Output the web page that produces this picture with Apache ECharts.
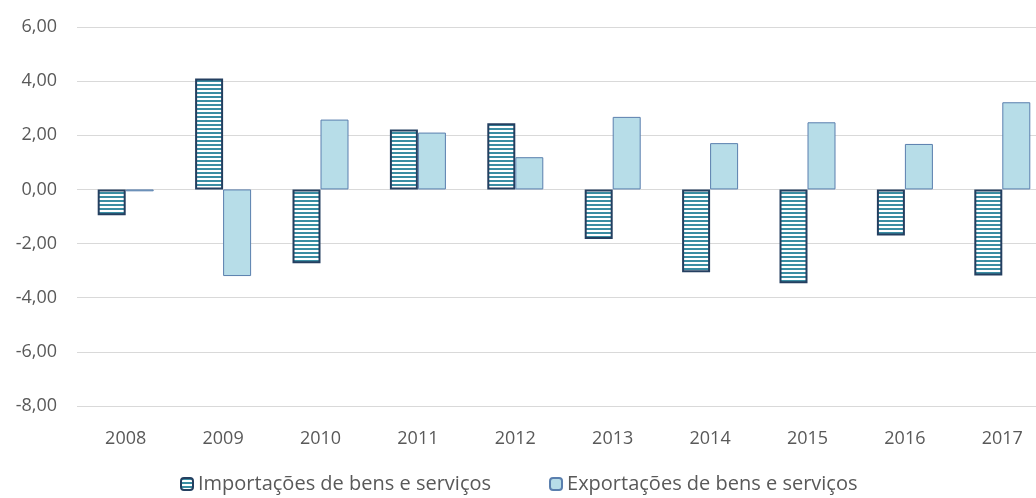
<!DOCTYPE html>
<html>
<head>
<meta charset="utf-8">
<script src="https://cdn.jsdelivr.net/npm/echarts@6/dist/echarts.min.js"></script>
<style>
  html, body { margin: 0; padding: 0; background: #fff; }
  #chart { width: 1036px; height: 498px; }
</style>
</head>
<body>
<div id="chart"></div>
<script>
const years = ['2008', '2009', '2010', '2011', '2012', '2013', '2014', '2015', '2016', '2017'];
const importacoes = [-0.95, 4.1, -2.73, 2.21, 2.44, -1.83, -3.06, -3.47, -1.7, -3.18];
const exportacoes = [-0.07, -3.2, 2.58, 2.1, 1.19, 2.68, 1.71, 2.48, 1.68, 3.22];

const labelColor = '#595959';
const gridColor = '#d9d9d9';

// listras horizontais da série de importações
const stripe = document.createElement('canvas');
stripe.width = 4;
stripe.height = 4;
const ctx = stripe.getContext('2d');
ctx.fillStyle = '#ffffff';
ctx.fillRect(0, 0, 4, 4);
ctx.fillStyle = '#3a8da3';
ctx.fillRect(0, 0, 4, 2);

const chart = echarts.init(document.getElementById('chart'));
chart.setOption({
  animation: false,
  textStyle: { fontFamily: 'Open Sans' },
  grid: { left: 77, top: 27, width: 974, height: 379, containLabel: false, outerBoundsMode: 'none' },
  legend: {
    top: 472,
    left: 180,
    padding: 0,
    itemWidth: 12,
    itemHeight: 12,
    itemGap: 58,
    textStyle: { color: labelColor, fontSize: 20, lineHeight: 24, fontFamily: 'Open Sans' },
    data: ['Importações de bens e serviços', 'Exportações de bens e serviços']
  },
  xAxis: {
    type: 'category',
    data: years,
    position: 'bottom',
    axisLine: { show: false },
    axisTick: { show: false },
    axisLabel: { color: labelColor, fontSize: 18, margin: 24 }
  },
  yAxis: {
    type: 'value',
    min: -8,
    max: 6,
    interval: 2,
    axisLine: { show: false },
    axisTick: { show: false },
    splitLine: { lineStyle: { color: gridColor, width: 1 } },
    axisLabel: {
      color: labelColor,
      fontSize: 18,
      margin: 20,
      formatter: v => v.toFixed(2).replace('.', ',')
    }
  },
  series: [
    {
      name: 'Importações de bens e serviços',
      type: 'bar',
      data: importacoes,
      barWidth: 28,
      barGap: '0%',
      itemStyle: {
        color: { image: stripe, repeat: 'repeat' },
        borderColor: '#243f60',
        borderWidth: 2
      }
    },
    {
      name: 'Exportações de bens e serviços',
      type: 'bar',
      data: exportacoes,
      barWidth: 28,
      barGap: '0%',
      itemStyle: {
        color: '#b7dde8',
        borderColor: '#5a7fae',
        borderWidth: 1
      }
    }
  ]
});
</script>
</body>
</html>
